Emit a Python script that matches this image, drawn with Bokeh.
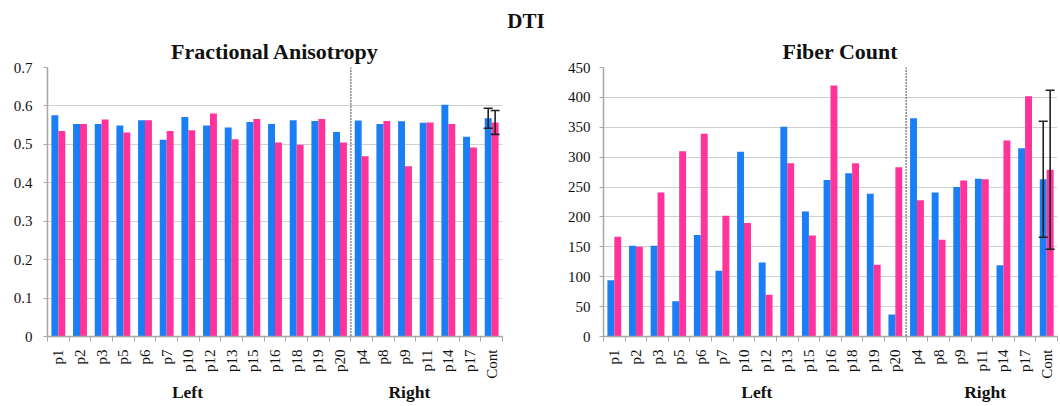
import math
from bokeh.plotting import figure
from bokeh.models import (Range1d, FixedTicker, Span, Whisker, TeeHead, LinearAxis,
                          ColumnDataSource, Div, CustomJSTickFormatter)
from bokeh.layouts import column, row
from bokeh.embed import file_html
from bokeh.resources import INLINE

# ---------------- data ----------------
patients = ["p1", "p2", "p3", "p5", "p6", "p7", "p10", "p12", "p13", "p15", "p16",
            "p18", "p19", "p20", "p4", "p8", "p9", "p11", "p14", "p17", "Cont"]
groups = ["Left", "Right"]
n_left = 14  # first 14 patients are "Left"

fa_blue = [0.576, 0.553, 0.553, 0.549, 0.563, 0.512, 0.571, 0.549, 0.544, 0.558, 0.553,
           0.563, 0.561, 0.532, 0.562, 0.553, 0.560, 0.556, 0.603, 0.520, 0.568]
fa_pink = [0.535, 0.553, 0.565, 0.531, 0.563, 0.535, 0.537, 0.580, 0.513, 0.566, 0.505,
           0.499, 0.566, 0.505, 0.469, 0.561, 0.443, 0.557, 0.553, 0.492, 0.557]
fa_cont_sd = [0.026, 0.031]   # blue, pink

fc_blue = [94, 152, 152, 59, 170, 110, 309, 124, 351, 209, 262,
           273, 239, 37, 365, 241, 250, 264, 119, 315, 263]
fc_pink = [167, 150, 241, 310, 339, 202, 190, 70, 290, 169, 420,
           290, 120, 283, 228, 162, 261, 263, 328, 402, 279]
fc_cont_sd = [97, 133]

fa_ticks = [0, 0.1, 0.2, 0.3, 0.4, 0.5, 0.6, 0.7]
fc_ticks = [0, 50, 100, 150, 200, 250, 300, 350, 400, 450]

# ---------------- style ----------------
BLUE = "#1C7EF4"
PINK = "#FF3399"
AXIS = "#a6a6a6"
GRID = "#a0a0a0"
FONT = "Liberation Serif"
TXT = "#111111"


def make_chart(title, blue, pink, sd, ticks, width, mb_left, mb_right,
               title_align, title_offset, group_x, tick_standoff):
    n = len(patients)
    p = figure(width=width, height=374, x_range=Range1d(0, n),
               y_range=Range1d(0, ticks[-1]), output_backend="svg",
               toolbar_location=None, min_border_left=mb_left,
               min_border_right=mb_right, min_border_top=37, min_border_bottom=68)
    p.outline_line_color = None
    p.xgrid.visible = False

    p.title.text = title
    p.title.align = title_align
    p.title.offset = title_offset
    p.title.standoff = 7
    p.title.text_font = FONT
    p.title.text_font_style = "bold"
    p.title.text_font_size = "22px"
    p.title.text_color = TXT

    idx = list(range(n))
    src = ColumnDataSource(dict(xb=[i + 0.34 for i in idx], xp=[i + 0.66 for i in idx],
                                blue=blue, pink=pink))
    p.vbar(x="xb", top="blue", width=0.32, source=src, fill_color=BLUE, line_color=None)
    p.vbar(x="xp", top="pink", width=0.32, source=src, fill_color=PINK, line_color=None)

    # error bars on the control group
    c = n - 1
    esrc = ColumnDataSource(dict(base=[c + 0.34, c + 0.66],
                                 lower=[blue[c] - sd[0], pink[c] - sd[1]],
                                 upper=[blue[c] + sd[0], pink[c] + sd[1]]))
    w = Whisker(base="base", lower="lower", upper="upper", source=esrc,
                dimension="height", line_color="#222222", line_width=1.6, level="overlay",
                upper_head=TeeHead(size=9, line_color="#222222", line_width=1.6),
                lower_head=TeeHead(size=9, line_color="#222222", line_width=1.6))
    p.add_layout(w)

    # separator between Left and Right
    p.add_layout(Span(location=n_left, dimension="height", line_color="#222222",
                      line_dash="1 2", line_width=1.6))

    # y axis
    p.yaxis.ticker = FixedTicker(ticks=ticks)
    p.yaxis.major_label_overrides = {0: "0"}
    p.yaxis.axis_line_color = AXIS
    p.yaxis.axis_line_width = 1.5
    p.yaxis.major_tick_line_color = AXIS
    p.yaxis.major_tick_out = 4
    p.yaxis.major_tick_in = 0
    p.yaxis.minor_tick_line_color = None
    p.yaxis.major_label_standoff = tick_standoff
    p.yaxis.major_label_text_font = FONT
    p.yaxis.major_label_text_font_size = "15px"
    p.yaxis.major_label_text_color = TXT
    p.ygrid.ticker = FixedTicker(ticks=ticks[1:])
    p.ygrid.grid_line_color = GRID
    p.ygrid.grid_line_dash = "1 1"
    p.ygrid.grid_line_width = 1

    # x axis (patients)
    p.xaxis.ticker = FixedTicker(ticks=[i + 0.5 for i in idx],
                                 minor_ticks=list(range(n + 1)))
    p.xaxis.formatter = CustomJSTickFormatter(args=dict(names=patients),
                                              code="return names[Math.floor(tick)] || '';")
    p.xaxis.major_label_orientation = math.pi / 2
    p.xaxis.major_tick_out = 0
    p.xaxis.major_tick_in = 0
    p.xaxis.minor_tick_out = 5
    p.xaxis.minor_tick_in = 0
    p.xaxis.minor_tick_line_color = AXIS
    p.xaxis.axis_line_color = AXIS
    p.xaxis.axis_line_width = 1.5
    p.xaxis.major_label_standoff = 8
    p.xaxis.major_label_text_font = FONT
    p.xaxis.major_label_text_font_size = "15px"
    p.xaxis.major_label_text_color = TXT

    # second axis below: side groups
    gax = LinearAxis(ticker=FixedTicker(ticks=group_x),
                     formatter=CustomJSTickFormatter(args=dict(g=groups, split=n_left),
                                                     code="return tick < split ? g[0] : g[1];"))
    gax.axis_line_color = None
    gax.major_tick_line_color = None
    gax.minor_tick_line_color = None
    gax.major_tick_out = 0
    gax.major_tick_in = 0
    gax.major_label_standoff = 0
    gax.major_label_text_font = FONT
    gax.major_label_text_font_style = "bold"
    gax.major_label_text_font_size = "17.5px"
    gax.major_label_text_color = TXT
    p.add_layout(gax, "below")
    return p


p_fa = make_chart("Fractional Anisotropy", fa_blue, fa_pink, fa_cont_sd, fa_ticks,
                  width=545, mb_left=47, mb_right=43, title_align="center", title_offset=0,
                  group_x=[6.46, 16.7], tick_standoff=11)
p_fc = make_chart("Fiber Count", fc_blue, fc_pink, fc_cont_sd, fc_ticks,
                  width=514, mb_left=58, mb_right=2, title_align="left", title_offset=179,
                  group_x=[7.09, 17.65], tick_standoff=9)

header = Div(text='<div style="width:1052px;text-align:center;font-family:\'Liberation Serif\';'
                  'font-weight:bold;font-size:21px;color:#111;padding-top:6px;">DTI</div>',
             width=1059, height=30, margin=(0, 0, 0, 0))

layout = column(header, row(p_fa, p_fc))
open("out.html", "w").write(file_html(layout, INLINE, "DTI"))
